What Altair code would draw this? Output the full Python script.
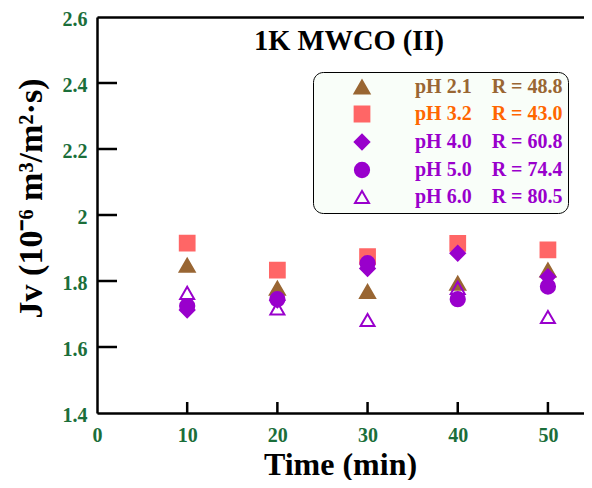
import altair as alt
import pandas as pd

# ---- data ----
times = [10, 20, 30, 40, 50]
series = ["pH 2.1", "pH 3.2", "pH 4.0", "pH 5.0", "pH 6.0"]
r_values = ["48.8", "43.0", "60.8", "74.4", "80.5"]
jv_ph21 = [1.848, 1.778, 1.768, 1.793, 1.833]
jv_ph32 = [1.915, 1.833, 1.874, 1.914, 1.894]
jv_ph40 = [1.712, 1.742, 1.838, 1.884, 1.813]
jv_ph50 = [1.724, 1.745, 1.854, 1.745, 1.783]
jv_ph60 = [1.764, 1.717, 1.682, 1.779, 1.691]
x_ticks = [0, 10, 20, 30, 40, 50]
y_ticks = [1.4, 1.6, 1.8, 2.0, 2.2, 2.4, 2.6]
title_text = "1K MWCO (II)"

# ---- styles ----
shapes = ["triangle-up", "square", "diamond", "circle", "triangle-up"]
fills = ["#996633", "#FF6666", "#9900CC", "#9900CC", "transparent"]
strokes = ["#996633", "#FF6666", "#9900CC", "#9900CC", "#9900CC"]
sizes = [225, 196, 324, 196, 225]
label_colors = ["#996633", "#FF6600", "#9900CC", "#9900CC", "#9900CC"]
GREEN = "#1B6E3A"
FONT = "Liberation Serif"
W, H = 487, 396
YTICK, XTICK = 20, 11

all_vals = [jv_ph21, jv_ph32, jv_ph40, jv_ph50, jv_ph60]
rows = []
for s, vals in zip(series, all_vals):
    for t, v in zip(times, vals):
        rows.append({"t": t, "jv": v, "ph": s})
df = pd.DataFrame(rows)

# legend label expressions built from arrays
r_expr = "''"
for s, r in reversed(list(zip(series, r_values))):
    r_expr = f"(datum.label == '{s}' ? 'R = {r}' : {r_expr})"
label_expr = "datum.label + '\u00a0\u00a0\u00a0\u00a0' + " + r_expr
col_expr = "'#9900CC'"
for s, c in reversed(list(zip(series, label_colors))):
    col_expr = f"(datum.value == '{s}' ? '{c}' : {col_expr})"

legend = alt.Legend(
    title=None, orient="none", legendX=216, legendY=55,
    fillColor="#F9FEF9", strokeColor="black", cornerRadius=10,
    padding=5, symbolOffset=34, labelOffset=43, rowPadding=4,
    labelFont=FONT, labelFontSize=20, labelFontWeight="bold",
    labelExpr=label_expr, symbolStrokeWidth=2,
    labelColor={"expr": col_expr},
)

xscale = alt.Scale(domain=[0, 54.0], nice=False, zero=False)
yscale = alt.Scale(domain=[1.4, 2.6], nice=False, zero=False)

y_axis = alt.Axis(
    orient="left", values=y_ticks, format="~g", grid=False, ticks=False,
    domainColor="black", domainWidth=2.5, labelFlush=False, labelOverlap=False,
    labelFont=FONT, labelFontSize=20, labelFontWeight="bold", labelColor=GREEN,
    labelPadding=10, labelOffset=2,
    title="Jv (10\u207b\u2076 m\u00b3/m\u00b2\u00b7s)", titleFont=FONT,
    titleFontSize=34, titleFontWeight="bold", titleColor="black",
    titleX=-56, titleY=181, titleAngle=270, titleAlign="center",
    titleBaseline="alphabetic")

x_axis = alt.Axis(
    orient="bottom", values=x_ticks, grid=False, ticks=False,
    domainColor="black", domainWidth=2.5, labelFlush=False, labelOverlap=False,
    labelFont=FONT, labelFontSize=20, labelFontWeight="bold", labelColor=GREEN,
    labelPadding=12, title="Time (min)", titleFont=FONT, titleFontSize=32,
    titleFontWeight="bold", titleColor="black", titleX=243, titleY=61,
    titleBaseline="alphabetic", titleAlign="center")

points = alt.Chart(df).mark_point(opacity=1, strokeWidth=2).encode(
    x=alt.X("t:Q", scale=xscale, axis=x_axis),
    y=alt.Y("jv:Q", scale=yscale, axis=y_axis),
    shape=alt.Shape("ph:N", scale=alt.Scale(domain=series, range=shapes), legend=legend),
    fill=alt.Fill("ph:N", scale=alt.Scale(domain=series, range=fills), legend=legend),
    stroke=alt.Stroke("ph:N", scale=alt.Scale(domain=series, range=strokes), legend=legend),
    size=alt.Size("ph:N", scale=alt.Scale(domain=series, range=sizes), legend=legend),
)

# inward tick marks, drawn from the inner tick values
tick_df = pd.DataFrame({"yv": y_ticks[1:6], "xv": x_ticks[1:6]})
yt = alt.Chart(tick_df).mark_rule(color="black", strokeWidth=2.5).encode(
    y=alt.Y("yv:Q", scale=yscale),
    x=alt.value(0), x2=alt.value(YTICK),
)
# also carries the top border as a top-oriented x axis
xt = alt.Chart(tick_df).mark_rule(color="black", strokeWidth=2.5).encode(
    x=alt.X("xv:Q", scale=xscale, axis=alt.Axis(
        orient="top", labels=False, ticks=False, grid=False, title=None,
        domainColor="black", domainWidth=2.5)),
    y=alt.value(H), y2=alt.value(H - XTICK),
)

title = alt.Chart(pd.DataFrame({"t": [title_text]})).mark_text(
    font=FONT, fontSize=28.5, fontWeight="bold", color="black",
    align="center", baseline="alphabetic",
).encode(text="t:N", x=alt.value(252), y=alt.value(33))

chart = alt.layer(points, yt, xt, title).properties(
    width=W, height=H,
    autosize=alt.AutoSizeParams(type="none"),
    padding={"left": 89, "top": 9, "right": 0, "bottom": 67},
).configure_view(stroke="#888888", strokeWidth=1)

chart.save("out.html", embed_options={"renderer": "svg", "actions": False})
